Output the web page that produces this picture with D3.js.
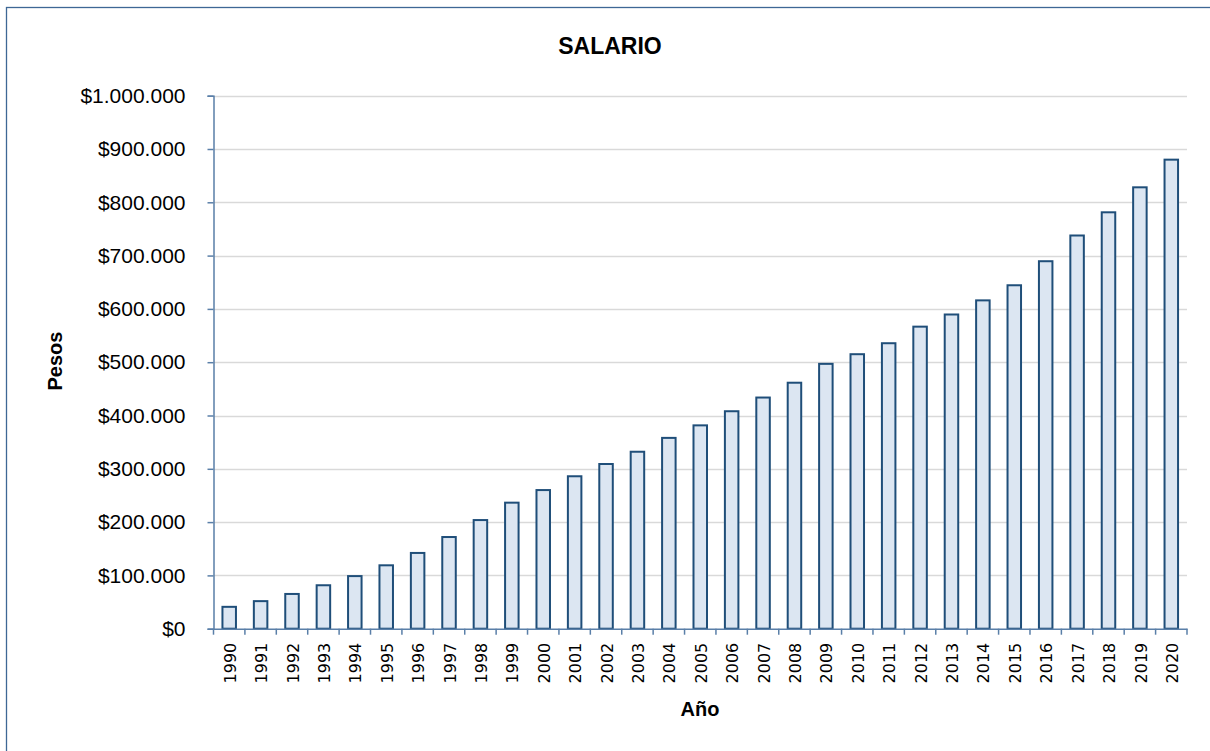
<!DOCTYPE html>
<html><head><meta charset="utf-8">
<script src="https://cdn.jsdelivr.net/npm/d3@7"></script>
<style>body{margin:0;background:#fff}svg{display:block}</style>
</head><body>
<svg id="c" width="1210" height="751"></svg>
<script>
const years = ["1990","1991","1992","1993","1994","1995","1996","1997","1998","1999","2000","2001","2002","2003","2004","2005","2006","2007","2008","2009","2010","2011","2012","2013","2014","2015","2016","2017","2018","2019","2020"];
const salario = [41025,51720,65190,81510,98700,118934,142125,172005,203826,236460,260100,286000,309000,332000,358000,381500,408000,433700,461500,496900,515000,535600,566700,589500,616000,644350,689455,737717,781242,828116,880000];
const yTicks = [0,100000,200000,300000,400000,500000,600000,700000,800000,900000,1000000];
const title = "SALARIO", xTitle = "Año", yTitle = "Pesos";

const svg = d3.select("#c");
const L = 213.5, R = 1187, T = 95.7, B = 628.7;
const x = d3.scaleBand().domain(years).range([L, R]).paddingInner(0.57).paddingOuter(0.285);
const y = d3.scaleLinear().domain([0, 1000000]).range([B, T]);
const axisCol = "#5A7FA8";

svg.append("rect").attr("x",6.5).attr("y",7.5).attr("width",1220).attr("height",760)
  .attr("fill","none").attr("stroke","#3E6795").attr("stroke-width",1.3);

// gridlines
svg.append("g").selectAll("line").data(yTicks.filter(d=>d>0)).join("line")
  .attr("x1",L).attr("x2",R).attr("y1",d=>Math.round(y(d))+0.5).attr("y2",d=>Math.round(y(d))+0.5)
  .attr("stroke","#D9D9D9").attr("stroke-width",1.5);

// bars
svg.append("g").selectAll("rect").data(years).join("rect")
  .attr("x",d=>x(d)).attr("width",x.bandwidth())
  .attr("y",(d,i)=>y(salario[i])).attr("height",(d,i)=>B-y(salario[i]))
  .attr("fill","#DCE6F2").attr("stroke","#1F4E79").attr("stroke-width",2);

// y axis
const fmt = v => "$" + d3.format(",")(v).replace(/,/g,".");
const ya = svg.append("g").attr("transform",`translate(${L},0)`)
  .call(d3.axisLeft(y).tickValues(yTicks).tickSize(6).tickPadding(22).tickFormat(fmt));
ya.select(".domain").attr("stroke",axisCol).attr("stroke-width",1.5);
ya.selectAll(".tick line").attr("stroke",axisCol).attr("stroke-width",1.5);
ya.selectAll(".tick text").attr("font-family","Liberation Sans, Arial, sans-serif").attr("font-size",21).attr("fill","#000");

// x axis
const xa = svg.append("g").attr("transform",`translate(0,${B})`)
  .call(d3.axisBottom(x).tickSize(0).tickPadding(0));
xa.select(".domain").attr("stroke",axisCol).attr("stroke-width",1.5);
xa.selectAll(".tick text").attr("font-family","DejaVu Sans, sans-serif").attr("font-size",16).attr("fill","#000")
  .attr("transform","rotate(-90)").attr("text-anchor","end").attr("x",-14).attr("y",1).attr("dy","0.35em");
// boundary ticks
svg.append("g").selectAll("line").data(d3.range(years.length+1)).join("line")
  .attr("x1",i=>L+i*(R-L)/years.length).attr("x2",i=>L+i*(R-L)/years.length)
  .attr("y1",B).attr("y2",B+6).attr("stroke",axisCol).attr("stroke-width",1.5);

// titles
svg.append("text").attr("x",610).attr("y",54).attr("text-anchor","middle")
  .attr("font-family","Liberation Sans, Arial, sans-serif").attr("font-weight","bold").attr("font-size",23).text(title);
svg.append("text").attr("x",700).attr("y",716).attr("text-anchor","middle")
  .attr("font-family","Liberation Sans, Arial, sans-serif").attr("font-weight","bold").attr("font-size",20).text(xTitle);
svg.append("text").attr("transform","translate(62,361) rotate(-90)").attr("text-anchor","middle")
  .attr("font-family","Liberation Sans, Arial, sans-serif").attr("font-weight","bold").attr("font-size",20).text(yTitle);
</script>
</body></html>
